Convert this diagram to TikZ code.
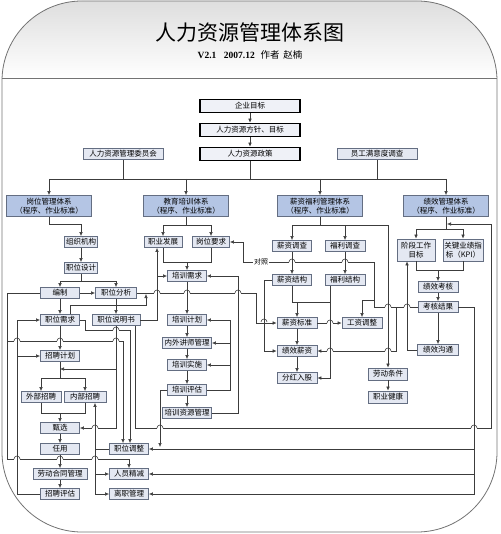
\documentclass[tikz,border=0pt]{standalone}
\usepackage{fontspec}
\setmainfont{Noto Sans CJK SC}
\newfontfamily\latinserif{Liberation Serif}
\usepackage{xcolor}
\usetikzlibrary{arrows.meta,positioning,calc}

\definecolor{boxfill}{RGB}{228,232,242}
\definecolor{boxline}{RGB}{100,110,130}
\definecolor{sysfill}{RGB}{180,197,228}
\definecolor{wire}{RGB}{60,60,60}

% small bridge where a horizontal line jumps a vertical one
\newcommand{\hop}[2]{%
  \fill[white] (#1-3.4,#2-1.2) rectangle (#1+3.4,#2+1.2);
  \draw[ln] (#1,#2-3.6) -- (#1,#2+3.6);
  \draw[ln] (#1-3,#2) arc[start angle=180, end angle=360, radius=3];
}

\begin{document}
\begin{tikzpicture}[
    x=1pt, y=-1pt,
    b0/.style={rectangle, draw=black, line width=1.6pt, fill=boxfill!60, minimum width=100pt, minimum height=13pt, inner sep=0pt, font=\fontsize{7.5}{9}\selectfont},
    b1/.style={rectangle, draw=boxline, line width=0.8pt, fill=boxfill, minimum width=39pt, minimum height=11pt, inner sep=0pt, align=center, font=\fontsize{7.5}{9}\selectfont},
    b2/.style={rectangle, draw=boxline, line width=0.8pt, fill=sysfill, minimum width=85pt, minimum height=21pt, inner sep=0pt, align=center, font=\fontsize{7.5}{9.5}\selectfont},
    ln/.style={draw=wire, line width=0.6pt},
    arr/.style={-{Latex[length=4pt,width=3.6pt]}, draw=wire, line width=0.6pt}
]
    \useasboundingbox (0,0) rectangle (500,534);

    % frame and header
    \begin{scope}
        \clip[rounded corners=80pt] (2,1) rectangle (497,532);
        \shade[top color=black!13, bottom color=white] (2,1) rectangle (497,78);
    \end{scope}
    \draw[black!55, line width=0.8pt, rounded corners=80pt] (2,1) rectangle (497,532);
    \draw[black!55, line width=0.8pt] (2,78) -- (497,78);
    \node (title) at (250,33) {\fontsize{21}{24}\selectfont 人力资源管理体系图};
    \node (sub) at (250,55) {\fontsize{9.5}{11}\selectfont\latinserif\bfseries V2.1\hspace{0.8em}2007.12\hspace{0.6em}\rmfamily\mdseries 作者\hspace{0.4em}赵楠};

    % top level
    \node [b0] (goal) at (250,106) {企业目标};
    \node [b0] (aim) at (250,130) {人力资源方针、目标};
    \node [b0] (policy) at (250,154) {人力资源政策};
    \node [b1, minimum width=80pt] (cmte) at (123,154) {人力资源管理委员会};
    \node [b1, minimum width=80pt] (survey) at (377,154) {员工满意度调查};

    \node [b2] (sysA) at (49,206) {岗位管理体系\\（程序、作业标准）};
    \node [b2] (sysB) at (186,206) {教育培训体系\\（程序、作业标准）};
    \node [b2] (sysC) at (320,206) {薪资福利管理体系\\（程序、作业标准）};
    \node [b2] (sysD) at (446,206) {绩效管理体系\\（程序、作业标准）};

    % posts
    \node [b1, minimum width=33pt] (org) at (81,242) {组织机构};
    \node [b1, minimum width=33pt] (jdes) at (81,268) {职位设计};
    \node [b1] (quota) at (60,293) {编制};
    \node [b1, minimum width=41pt] (jana) at (116,293) {职位分析};
    \node [b1] (jneed) at (60,320) {职位需求};
    \node [b1, minimum width=48pt] (jspec) at (116,320) {职位说明书};
    \node [b1] (rplan) at (60,356) {招聘计划};
    \node [b1, minimum width=40pt] (ext) at (41,397) {外部招聘};
    \node [b1, minimum width=42pt] (int) at (85,397) {内部招聘};
    \node [b1] (sel) at (60,428) {甄选};
    \node [b1] (hire) at (60,449) {任用};
    \node [b1, minimum width=54pt] (cont) at (60,474) {劳动合同管理};
    \node [b1] (reval) at (60,494) {招聘评估};
    \node [b1] (jadj) at (129,449) {职位调整};
    \node [b1] (cut) at (129,474) {人员精减};
    \node [b1] (quit) at (129,494) {离职管理};

    % training
    \node [b1, minimum width=38pt] (car) at (163,242) {职业发展};
    \node [b1, minimum width=37pt] (preq) at (211,242) {岗位要求};
    \node [b1] (tneed) at (187,276) {培训需求};
    \node [b1] (tplan) at (187,320) {培训计划};
    \node [b1, minimum width=49pt] (lect) at (187,343) {内外讲师管理};
    \node [b1] (timp) at (187,365) {培训实施};
    \node [b1] (tev) at (187,390) {培训评估};
    \node [b1, minimum width=49pt] (tres) at (187,413) {培训资源管理};

    % pay
    \node [b1] (ssur) at (292,246) {薪资调查};
    \node [b1, minimum width=40pt] (wsur) at (345,246) {福利调查};
    \node [b1] (sstr) at (292,280) {薪资结构};
    \node [b1, minimum width=40pt] (wstr) at (345,280) {福利结构};
    \node [b1, minimum width=40pt] (sstd) at (297,323) {薪资标准};
    \node [b1, minimum width=40pt] (sadj) at (362,323) {工资调整};
    \node [b1, minimum width=40pt] (psal) at (297,351) {绩效薪资};
    \node [b1, minimum width=40pt] (div) at (297,378) {分红入股};
    \node [b1, minimum height=12pt] (lab) at (388,374) {劳动条件};
    \node [b1, minimum height=12pt] (hlth) at (388,397) {职业健康};

    % performance
    \node [b1, minimum width=38pt, minimum height=22pt] (stage) at (416,250) {阶段工作\\目标};
    \node [b1, minimum width=40pt, minimum height=22pt] (kpi) at (463,250) {关键业绩指\\标（KPI）};
    \node [b1, minimum width=40pt] (pchk) at (438,287) {绩效考核};
    \node [b1, minimum width=40pt] (pres) at (438,307) {考核结果};
    \node [b1, minimum width=41pt] (pcom) at (438,350) {绩效沟通};

    \coordinate (bus) at (0,179);

    % top links
    \draw [arr] (goal) -- (aim);
    \draw [arr] (aim) -- (policy);
    \draw [ln] (cmte) -- (cmte |- bus);
    \draw [ln] (policy) -- (policy |- bus);
    \draw [ln] (survey) -- (survey |- bus);
    \draw [ln] (sysA |- bus) -- (sysD |- bus);
    \foreach \s in {sysA,sysB,sysC,sysD}
        \draw [arr] (\s |- bus) -- (\s);

    % posts links
    \draw [arr] (sysA) -- (49,224) -| (org);
    \draw [arr] (org) -- (jdes);
    \draw [arr] (jdes) -- (81,281) -| (quota);
    \draw [arr] (81,281) -| (jana);
    \draw [arr] (quota) -- (jana);
    \draw [arr] (quota) -- (jneed);
    \draw [arr] (jana) -- (jspec);
    \draw [arr] (jneed) -- (rplan);
    \draw [arr] (rplan) -- (60,378) -| (ext);
    \draw [arr] (60,378) -| (int);
    \draw [ln] (ext) |- (60,413);
    \draw [ln] (int) |- (60,413);
    \draw [arr] (60,413) -- (sel);
    \draw [arr] (sel) -- (hire);
    \draw [arr] (hire) -- (cont);
    \draw [arr] (cont) -- (reval);
    \draw [arr] (reval) -| (17,320) -- (jneed);
    \draw [arr] (17,356) -- (rplan);
    \draw [arr] (quota) -| (7,459) -| (cut);
    \draw [arr] (7,341) -| ([xshift=-6pt]jadj.north);
    \draw [arr] (jneed) -| (85,330) -| ([xshift=1pt]jadj.north);
    \draw [arr] (jspec) |- (sel);
    \draw [arr] (116,369) -- (60,369);
    \draw [arr] (jspec) -| ([xshift=-6pt]car.south);
    \draw [arr] (157,276) -- (tneed);
    \draw [arr] ([xshift=10pt]jneed.north) -- (70,305) -| (146,294);
    \draw [arr] (jana) -- (256,293) |- (sstd);
    \draw [arr] ([xshift=19pt]jspec.south) -- (135,428) -- (491,428) -- (491,224) -- (447,224);
    \draw [arr] (jadj) -| ([xshift=10pt]int.south);
    \draw [arr] (95,449) |- (cut);
    \draw [arr] (95,449) |- (quit);

    % training links
    \draw [arr] (sysB) -- (186,225) -| (car);
    \draw [arr] (186,225) -| (preq);
    \draw [ln] (car) |- (187,262);
    \draw [ln] (preq) |- (187,262);
    \draw [arr] (187,262) -- (tneed);
    \foreach \a/\b in {tneed/tplan, tplan/lect, lect/timp, timp/tev, tev/tres}
        \draw [arr] (\a) -- (\b);
    \draw [ln] (tev) -| (230,320);
    \draw [arr] (230,320) -- (tplan);
    \draw [arr] (230,343) -- (lect);
    \draw [arr] (230,365) -- (timp);
    \draw [arr] (tres) -| (238,276) -- (tneed);
    \draw [arr] (tev) -| (160,447);

    % pay links
    \draw [arr] (sysC) -- (320,225) -| (ssur);
    \draw [arr] (320,225) -| (wsur);
    \draw [arr] (320,225) -| (lab);
    \draw [arr] (lab) -- (hlth);
    \draw [arr] (ssur) -- (sstr);
    \draw [arr] (wsur) -- (wstr);
    \draw [ln] (sstr) |- (330,302);
    \draw [arr] (297,302) -- (sstd);
    \draw [arr] ([xshift=-15pt]wstr.south) |- (div);
    \draw [arr] (sstd) -- (sadj);
    \draw [arr] (sstd) -- (psal);
    \draw [arr] (psal) -- (div);
    \draw [arr] (sstr) -| (264,351) -- (psal);

    % performance links
    \draw [arr] (sysD) -- (446,229) -| (stage);
    \draw [arr] (446,229) -| (kpi);
    \draw [ln] (stage) |- (438,270);
    \draw [ln] (kpi) |- (438,270);
    \draw [arr] (438,270) -- (pchk);
    \draw [arr] (pchk) -- (pres);
    \draw [arr] (pres) -- (pcom);
    \draw [arr] (pcom) -| ([xshift=-9pt]stage.south);
    \draw [arr] (pres) -| (474,494) -- (quit);
    \draw [arr] (474,474) -- (cut);
    \draw [arr] (474,449) -- (jadj);
    \draw [arr] (pres) -- (374,307) |- (243,262) |- (preq);
    \draw [arr] (374,300) -| (sadj);
    \draw [arr] (396,307) |- (psal);
    \node [fill=white, inner sep=1pt, font=\fontsize{7}{8}\selectfont] (cmp) at (261,262) {对照};

    % line jumps
    \foreach \x/\y in {17/341, 60/341, 116/341, 116/330, 17/459, 60/459, 95/459,
        157/293, 187/293, 238/293, 95/428, 160/428, 474/428, 292/262, 345/262,
        264/322, 388/307, 407/307, 388/351, 330/351, 330/323}
        \hop{\x}{\y};
\end{tikzpicture}
\end{document}
